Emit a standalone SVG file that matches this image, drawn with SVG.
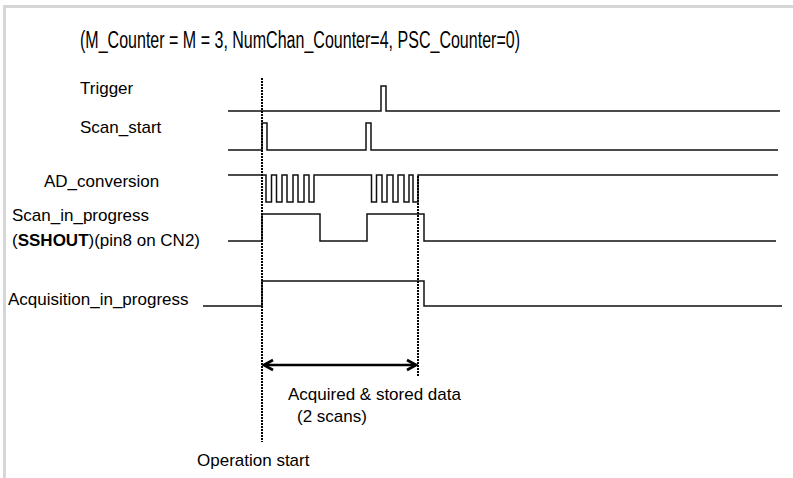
<svg xmlns="http://www.w3.org/2000/svg" width="793" height="478" viewBox="0 0 793 478">
  <style>
    .lbl { font-family: "Liberation Sans", Arial, sans-serif; font-size: 17px; fill: #000; }
    .title { font-family: "Liberation Sans", Arial, sans-serif; font-size: 23px; fill: #000; }
    .sig { fill: none; stroke: #111; stroke-width: 1.5; stroke-linejoin: miter; }
    .mark { fill: none; stroke: #000; stroke-width: 2; stroke-dasharray: 2 1; }
    .frame { fill: none; stroke: #d6d6d6; stroke-width: 3; }
  </style>
  <defs>
    <marker id="head" viewBox="0 0 14 14" refX="12" refY="7" markerWidth="14" markerHeight="14" orient="auto-start-reverse" markerUnits="userSpaceOnUse">
      <path d="M3 2 L12 7 L3 12" fill="none" stroke="#000" stroke-width="2.6"/>
    </marker>
  </defs>
  <rect width="793" height="478" fill="#fff"/>
  <path class="frame" d="M4.5 478 V6.5 H793"/>

  <text class="title" x="80" y="48" textLength="440" lengthAdjust="spacingAndGlyphs">(M_Counter = M = 3, NumChan_Counter=4, PSC_Counter=0)</text>

  <g id="trigger">
    <text class="lbl" x="80" y="94">Trigger</text>
    <path class="sig" d="M228 111 H381 V86 H386 V111 H780"/>
  </g>
  <g id="scan_start">
    <text class="lbl" x="80" y="133">Scan_start</text>
    <path class="sig" d="M228 150 H262 V123 H267 V150 H366 V123 H371 V150 H778"/>
  </g>
  <g id="ad_conversion">
    <text class="lbl" x="44" y="187">AD_conversion</text>
    <path class="sig" d="M228 175 H266 V202 H271.5 V175 H276.5 V202 H282 V175 H287 V202 H293 V175 H298 V202 H304 V175 H309 V202 H314 V175
      H371.5 V202 H376.5 V175 H382 V202 H387 V175 H393 V202 H398 V175 H404 V202 H409 V175 H413 V202 H418 V175 H778"/>
  </g>
  <g id="scan_in_progress">
    <text class="lbl" x="12" y="221">Scan_in_progress</text>
    <text class="lbl" x="12" y="246">(<tspan font-weight="bold">SSHOUT</tspan>)(pin8 on CN2)</text>
    <path class="sig" d="M228 241 H262 V214 H320 V241 H367 V214 H424 V241 H776"/>
  </g>
  <g id="acquisition_in_progress">
    <text class="lbl" x="8" y="305">Acquisition_in_progress</text>
    <path class="sig" d="M203 306 H262 V281 H424 V306 H782"/>
  </g>

  <g id="connectors">
    <line class="mark" x1="262" y1="78" x2="262" y2="442"/>
    <line class="mark" x1="418" y1="176" x2="418" y2="377"/>
    <line x1="264" y1="365" x2="416" y2="365" stroke="#000" stroke-width="2.4" marker-start="url(#head)" marker-end="url(#head)"/>
  </g>

  <g id="span_label">
    <text class="lbl" x="288" y="400">Acquired &amp; stored data</text>
    <text class="lbl" x="297" y="422">(2 scans)</text>
  </g>
  <g id="start_label">
    <text class="lbl" x="197" y="466">Operation start</text>
  </g>
</svg>
